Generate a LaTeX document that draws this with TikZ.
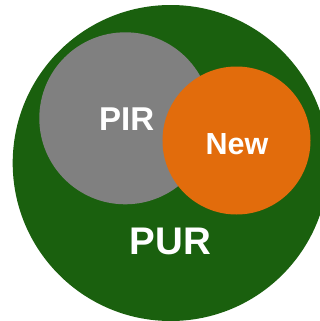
\documentclass[tikz,border=0pt]{standalone}
\usepackage{fontspec}
\setmainfont{Liberation Sans}
\definecolor{purgreen}{RGB}{26,96,14}
\definecolor{pirgray}{RGB}{128,128,128}
\definecolor{neworange}{RGB}{226,108,12}
\tikzset{
  setcircle/.style={circle, inner sep=0pt, draw=none},
  setlabel/.style={text=white, inner sep=0pt, font=\bfseries}
}
\begin{document}
\begin{tikzpicture}[x=1bp,y=-1bp]
\useasboundingbox (0,0) rectangle (320,321);
\begin{scope}
\clip (0,0) rectangle (320,321);
\node[setcircle, fill=purgreen, minimum size=316bp] (pur) at (170.7,163) {};
\end{scope}
\node[setcircle, fill=pirgray, minimum size=172bp] (pir) at (125.3,118.3) {};
\node[setcircle, fill=neworange, minimum size=148bp] (new) at (236.5,140.5) {};
\node[setlabel, font=\fontsize{33bp}{33bp}\selectfont\bfseries] (pirlabel) at (126.7,119.5) {PIR};
\node[setlabel, font=\fontsize{30.5bp}{30.5bp}\selectfont\bfseries] (newlabel) at (237,143.8) {New};
\node[setlabel, font=\fontsize{38.5bp}{38.5bp}\selectfont\bfseries] (purlabel) at (170.5,241.7) {PUR};
\end{tikzpicture}
\end{document}
